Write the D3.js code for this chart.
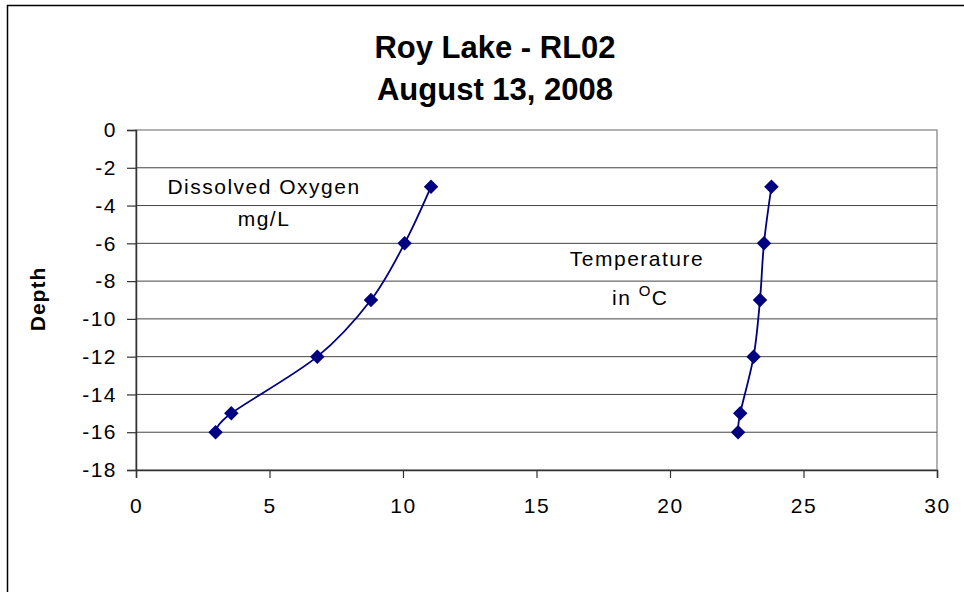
<!DOCTYPE html>
<html>
<head>
<meta charset="utf-8">
<script src="https://cdn.jsdelivr.net/npm/d3@7"></script>
<style>
  body { margin: 0; background: #fff; }
  svg text { font-family: Arial, "Liberation Sans", sans-serif; fill: #000; }
</style>
</head>
<body>
<svg id="chart" width="964" height="592"></svg>
<script>
// depths sampled (m)
const depths = [-3, -6, -9, -12, -15, -16];
// dissolved oxygen mg/L
const oxygen = [11.05, 10.06, 8.8, 6.79, 3.57, 2.98];
// temperature in C
const temperature = [23.8, 23.52, 23.37, 23.13, 22.63, 22.55];
const xTicks = [0, 5, 10, 15, 20, 25, 30];
const yTicks = [0, -2, -4, -6, -8, -10, -12, -14, -16, -18];

const svg = d3.select('#chart');
const margin = {left: 136, top: 130, right: 937, bottom: 470};

const x = d3.scaleLinear().domain([0, 30]).range([margin.left, margin.right]);
const y = d3.scaleLinear().domain([0, -18]).range([margin.top, margin.bottom]);

// outer chart border
svg.append('rect')
  .attr('x', 7.5).attr('y', 5.5)
  .attr('width', 1000).attr('height', 1000)
  .attr('fill', 'none').attr('stroke', '#000').attr('stroke-width', 1.5);

// plot area frame (top/right)
svg.append('rect')
  .attr('x', margin.left).attr('y', margin.top)
  .attr('width', margin.right - margin.left).attr('height', margin.bottom - margin.top)
  .attr('fill', 'none').attr('stroke', '#999').attr('stroke-width', 1.5);

// gridlines
svg.append('g')
  .selectAll('line')
  .data(yTicks.filter(d => d !== 0 && d !== -18))
  .join('line')
    .attr('x1', margin.left).attr('x2', margin.right)
    .attr('y1', d => y(d)).attr('y2', d => y(d))
    .attr('stroke', '#444').attr('stroke-width', 1);

// axes
const yAxis = svg.append('g')
  .attr('transform', `translate(${margin.left},0)`)
  .call(d3.axisLeft(y).tickValues(yTicks).tickSize(9).tickPadding(10));
const xAxis = svg.append('g')
  .attr('transform', `translate(0,${margin.bottom})`)
  .call(d3.axisBottom(x).tickValues(xTicks).tickSize(8).tickPadding(20));

[yAxis, xAxis].forEach(a => {
  a.select('.domain').attr('stroke', '#333').attr('stroke-width', 1.5);
  a.selectAll('.tick line').attr('stroke', '#333').attr('stroke-width', 1.2);
  a.selectAll('.tick text')
    .attr('font-size', 21)
    .attr('letter-spacing', 1.5)
    .attr('font-family', 'Arial, "Liberation Sans", sans-serif')
    .attr('fill', '#000');
});
yAxis.selectAll('.tick text').text(d => d === 0 ? '0' : '-' + Math.abs(d));

// series
const color = '#000080';
const line = d3.line()
  .x(d => x(d[0])).y(d => y(d[1]))
  .curve(d3.curveCatmullRom.alpha(0));

[oxygen, temperature].forEach(vals => {
  const pts = vals.map((v, i) => [v, depths[i]]);
  svg.append('path')
    .datum(pts)
    .attr('d', line)
    .attr('fill', 'none').attr('stroke', color).attr('stroke-width', 1.8);
  svg.append('g')
    .selectAll('path')
    .data(pts)
    .join('path')
      .attr('d', d3.symbol(d3.symbolSquare, 105))
      .attr('transform', d => `translate(${x(d[0])},${y(d[1])}) rotate(45)`)
      .attr('fill', color);
});

// title
const title = svg.append('text')
  .attr('text-anchor', 'middle')
  .attr('font-size', 31).attr('font-weight', 'bold');
title.append('tspan').attr('x', 495).attr('y', 58).text('Roy Lake - RL02');
title.append('tspan').attr('x', 495).attr('y', 100).text('August 13, 2008');

// y axis title
svg.append('text')
  .attr('transform', 'translate(45,299) rotate(-90)')
  .attr('text-anchor', 'middle')
  .attr('font-size', 21).attr('font-weight', 'bold').attr('letter-spacing', 1)
  .text('Depth');

// annotations
const note = (txt, cx, cy) => svg.append('text')
  .attr('x', cx).attr('y', cy).attr('text-anchor', 'middle')
  .attr('font-size', 21).attr('letter-spacing', 1.5).text(txt);
note('Dissolved Oxygen', 264, 194);
note('mg/L', 264, 226);
note('Temperature', 637, 266);
const tin = svg.append('text').attr('x', 612).attr('y', 305)
  .attr('font-size', 21).attr('letter-spacing', 1.5);
tin.append('tspan').text('in ');
tin.append('tspan').attr('dy', -9).attr('font-size', 15).text('O');
tin.append('tspan').attr('dy', 9).text('C');
</script>
</body>
</html>
